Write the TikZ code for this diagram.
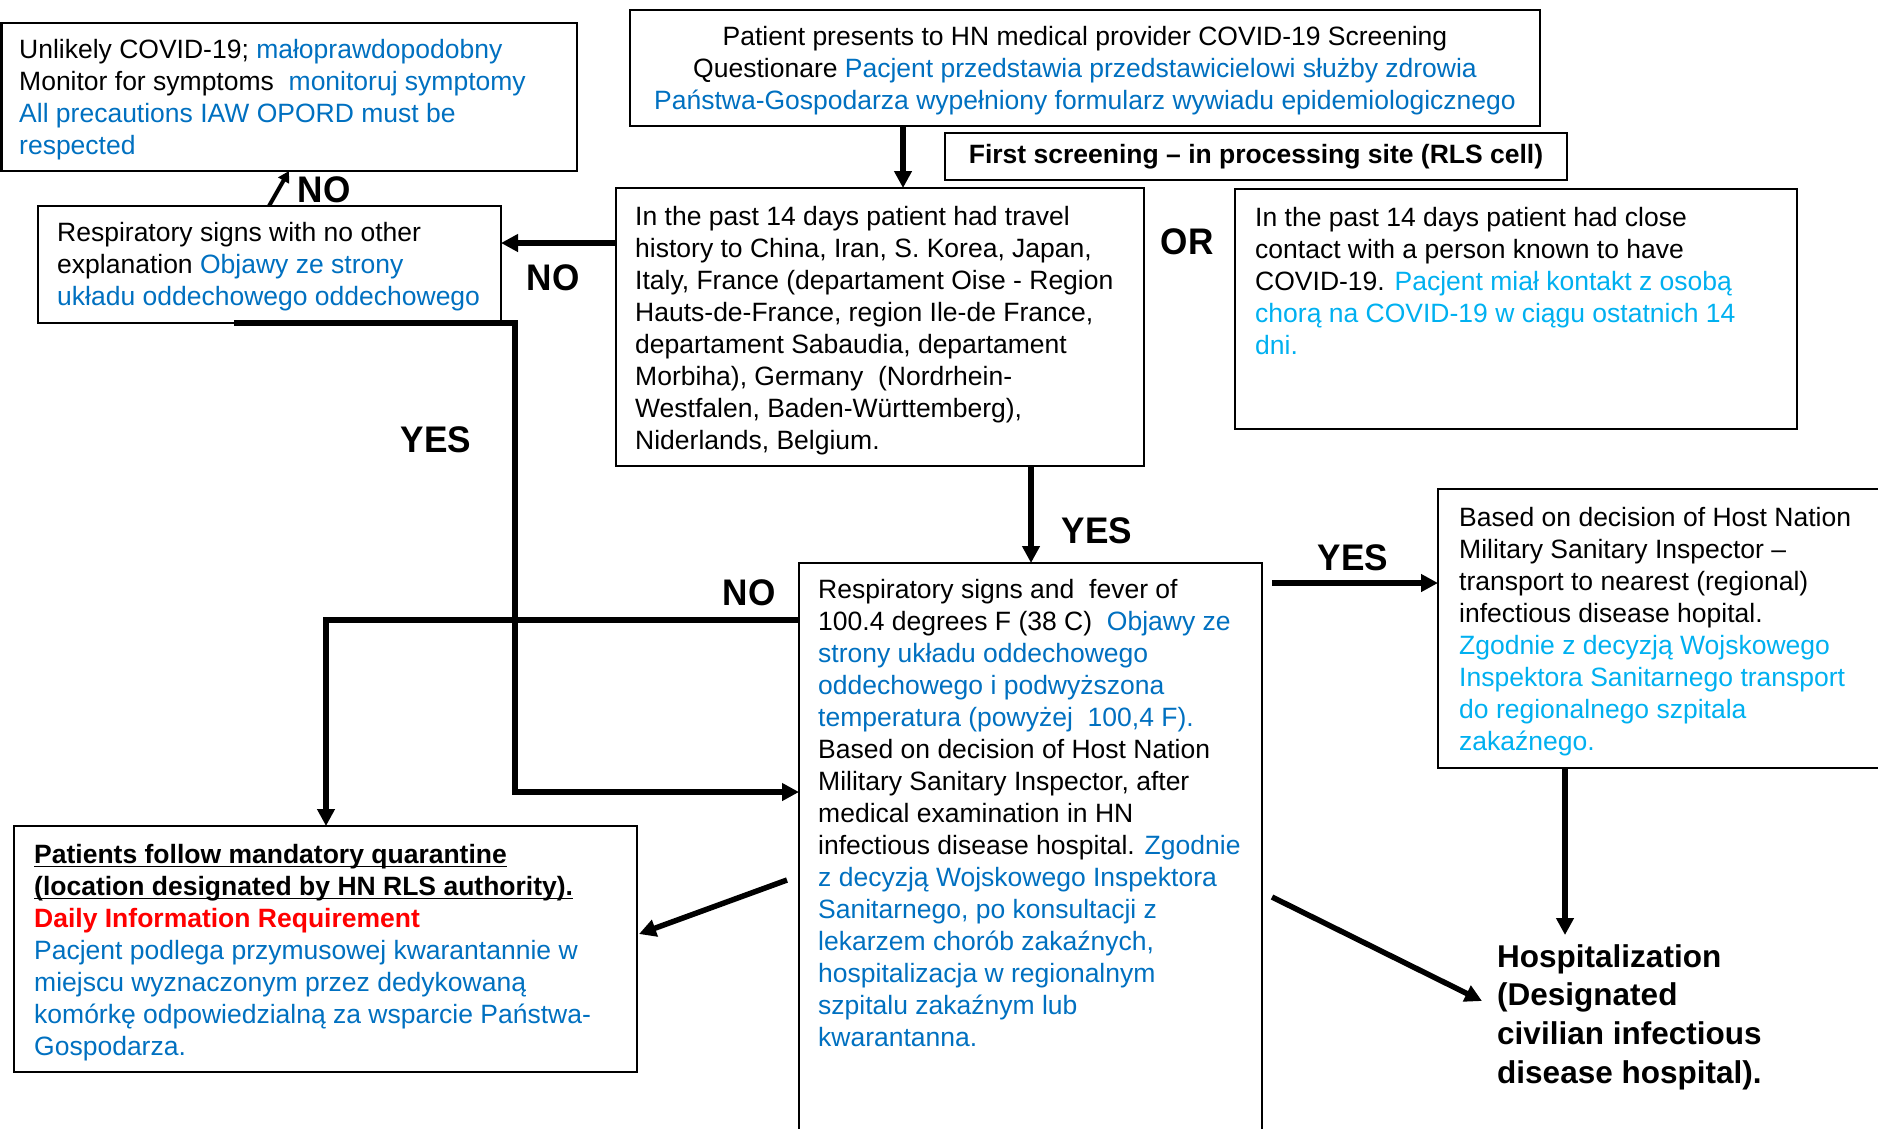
\documentclass[tikz,border=0pt]{standalone}
\usepackage{fontspec}
\setmainfont{Liberation Sans}
\usetikzlibrary{arrows.meta,calc}
\definecolor{pblue}{HTML}{0070C0}
\definecolor{cblue}{HTML}{00B0F0}
\definecolor{dred}{HTML}{FF0000}
\newcommand\myul[1]{\setbox0\hbox{#1}\rlap{\rule[-4pt]{\wd0}{1.8pt}}\box0}
\begin{document}
\begin{tikzpicture}[x=1pt,y=-1pt,
  box/.style={draw=black,line width=2.2pt,rectangle,inner sep=0pt,outer sep=0pt,anchor=north west},
  txt/.style={anchor=north west,inner sep=0pt,align=left,font=\fontsize{26.5}{32}\selectfont},
  conn/.style={line width=5.5pt,-{Triangle[length=17pt,width=17pt]}},
  thinconn/.style={line width=4pt,-{Triangle[length=11pt,width=12pt]}},
  lbl/.style={inner sep=0pt,font=\fontsize{37}{40}\selectfont\bfseries\addfontfeatures{FakeStretch=0.95}},
]
\useasboundingbox (0,0) rectangle (1878,1128);

% boxes
\node[box,minimum width=575.5pt,minimum height=148pt] (unlikely) at (1.5,23) {};
\node[box,minimum width=910pt,minimum height=116pt] (topbox) at (630,10) {};
\node[box,minimum width=622pt,minimum height=47pt] (first) at (945,133) {};
\node[box,minimum width=528pt,minimum height=278pt] (travel) at (616,188) {};
\node[box,minimum width=562pt,minimum height=240pt] (contact) at (1235,189) {};
\node[box,minimum width=463pt,minimum height=117pt] (resp) at (38,206) {};
\node[box,minimum width=463pt,minimum height=580pt] (medical) at (799,563) {};
\node[box,minimum width=445pt,minimum height=279pt] (transport) at (1438,489) {};
\node[box,minimum width=623pt,minimum height=246pt] (quar) at (14,826) {};

% texts
\node[txt] (tUnl) at ($(unlikely.north west)+(17.5,16)$) {Unlikely COVID-19; \textcolor{pblue}{małoprawdopodobny}\\
Monitor for symptoms \ \textcolor{pblue}{monitoruj symptomy}\\
\textcolor{pblue}{All precautions IAW OPORD must be}\\
\textcolor{pblue}{respected}};

\node[txt,anchor=north,align=center] (tTop) at ($(topbox.north)+(0,16)$) {Patient presents to HN medical provider COVID-19 Screening\\
Questionare \textcolor{pblue}{Pacjent przedstawia przedstawicielowi służby zdrowia}\\
\textcolor{pblue}{Państwa-Gospodarza wypełniony formularz wywiadu epidemiologicznego}};

\node[inner sep=0pt,font=\fontsize{26.5}{32}\selectfont\bfseries] (tFirst) at (first.center) {First screening – in processing site (RLS cell)};

\node[txt] (tTravel) at ($(travel.north west)+(19,18)$) {In the past 14 days patient had travel\\
history to China, Iran, S. Korea, Japan,\\
Italy, France (departament Oise - Region\\
Hauts-de-France, region Ile-de France,\\
departament Sabaudia, departament\\
Morbiha), Germany \ (Nordrhein-\\
Westfalen, Baden-Württemberg),\\
Niderlands, Belgium.};

\node[txt] (tContact) at ($(contact.north west)+(20,18)$) {In the past 14 days patient had close\\
contact with a person known to have\\
COVID-19. \textcolor{cblue}{Pacjent miał kontakt z osobą}\\
\textcolor{cblue}{chorą na COVID-19 w ciągu ostatnich 14}\\
\textcolor{cblue}{dni.}};

\node[txt] (tResp) at ($(resp.north west)+(19,16)$) {Respiratory signs with no other\\
explanation \textcolor{pblue}{Objawy ze strony}\\
\textcolor{pblue}{układu oddechowego oddechowego}};

\node[txt] (tMed) at ($(medical.north west)+(19,16)$) {Respiratory signs and \ fever of\\
100.4 degrees F (38 C) \ \textcolor{pblue}{Objawy ze}\\
\textcolor{pblue}{strony układu oddechowego}\\
\textcolor{pblue}{oddechowego i podwyższona}\\
\textcolor{pblue}{temperatura (powyżej \ 100,4 F).}\\
Based on decision of Host Nation\\
Military Sanitary Inspector, after\\
medical examination in HN\\
infectious disease hospital. \textcolor{pblue}{Zgodnie}\\
\textcolor{pblue}{z decyzją Wojskowego Inspektora}\\
\textcolor{pblue}{Sanitarnego, po konsultacji z}\\
\textcolor{pblue}{lekarzem chorób zakaźnych,}\\
\textcolor{pblue}{hospitalizacja w regionalnym}\\
\textcolor{pblue}{szpitalu zakaźnym lub}\\
\textcolor{pblue}{kwarantanna.}};

\node[txt] (tTrans) at ($(transport.north west)+(21,18)$) {Based on decision of Host Nation\\
Military Sanitary Inspector –\\
transport to nearest (regional)\\
infectious disease hopital.\\
\textcolor{cblue}{Zgodnie z decyzją Wojskowego}\\
\textcolor{cblue}{Inspektora Sanitarnego transport}\\
\textcolor{cblue}{do regionalnego szpitala}\\
\textcolor{cblue}{zakaźnego.}};

\node[txt] (tQuar) at ($(quar.north west)+(20,18)$) {\textbf{\myul{Patients follow mandatory quarantine}}\\
\textbf{\myul{(location designated by HN RLS authority).}}\\
\textcolor{dred}{\textbf{Daily Information Requirement}}\\
\textcolor{pblue}{Pacjent podlega przymusowej kwarantannie w}\\
\textcolor{pblue}{miejscu wyznaczonym przez dedykowaną}\\
\textcolor{pblue}{komórkę odpowiedzialną za wsparcie Państwa-}\\
\textcolor{pblue}{Gospodarza.}};

\node[anchor=north west,inner sep=0pt,align=left,font=\fontsize{31.5}{38.7}\selectfont\bfseries] (hosp) at (1497,944) {Hospitalization\\
(Designated\\
civilian infectious\\
disease hospital).};

% labels
\node[lbl] (lNo1) at (324,190) {NO};
\node[lbl] (lNo2) at (553,278) {NO};
\node[lbl] (lYes1) at (436,440) {YES};
\node[lbl] (lYes2) at (1097,531) {YES};
\node[lbl] (lNo3) at (749,593) {NO};
\node[lbl] (lYes3) at (1353,558) {YES};
\node[lbl] (lOr) at (1187,242) {OR};

% connectors
\coordinate (a1) at ($(topbox.south west)+(273,0)$);
\draw[conn] (a1) -- (a1 |- travel.north);

\coordinate (a2) at ($(travel.north west)+(0,55)$);
\draw[conn] (a2) -- (a2 -| resp.east);

\draw[thinconn] ($(resp.north west)+(231,0)$) -- ($(unlikely.south west)+(287.5,0)$);

\draw[conn] ($(resp.south west)+(196,0)$) -- ($(resp.south east)+(14,0)$) |- ($(medical.north west)+(0,229)$);

\coordinate (a5) at ($(travel.south west)+(415,0)$);
\draw[conn] (a5) -- (a5 |- medical.north);

\coordinate (a6) at ($(medical.north west)+(0,57)$);
\draw[conn] (a6) -- (a6 -| 326,0) -- (326,0 |- quar.north);

\draw[conn] ($(medical.north west)+(-12,317)$) -- ($(quar.north east)+(2,108)$);

\coordinate (a8) at ($(medical.north east)+(10,20)$);
\draw[conn] (a8) -- (a8 -| transport.west);

\coordinate (a9) at ($(transport.south west)+(127,0)$);
\draw[conn] (a9) -- ($(hosp.north west)+(68,-9)$ -| a9);

\draw[conn] ($(medical.north east)+(10,334)$) -- ($(hosp.north west)+(-15,57)$);
\end{tikzpicture}
\end{document}
